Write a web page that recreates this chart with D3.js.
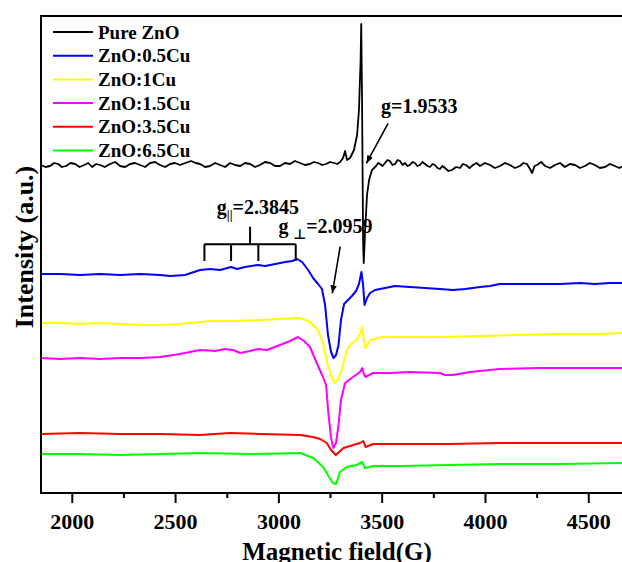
<!DOCTYPE html>
<html>
<head>
<meta charset="utf-8">
<script src="https://cdnjs.cloudflare.com/ajax/libs/d3/7.8.5/d3.min.js"></script>
<style>
    body{ margin: 0; background: #fff; }
    svg{ display: block; font-family: "Liberation Serif", "Times New Roman", serif; font-weight: bold; }
</style>
</head>
<body>
<svg id="chart" width="622" height="562"></svg>
<script>
// spectra: [field (G), intensity (a.u.)]
var pure_zno = [[1851,328],[1873,326],[1895,327],[1915,330],[1934,329],[1952,326],[1972,327],[1994,330],[2016,329],[2038,326],[2060,328],[2080,330],[2098,326],[2118,329],[2137,328],[2160,326],[2185,329],[2210,331],[2234,327],[2258,326],[2282,329],[2306,330],[2331,328],[2355,326],[2379,330],[2403,331],[2427,328],[2452,326],[2476,329],[2500,330],[2524,328],[2550,330],[2577,332],[2600,330],[2621,329],[2645,326],[2669,327],[2694,330],[2718,328],[2742,326],[2766,330],[2790,328],[2815,327],[2839,330],[2863,329],[2887,326],[2911,328],[2935,331],[2960,330],[2984,327],[3008,327],[3032,330],[3056,329],[3080,332],[3105,330],[3129,328],[3153,329],[3172,331],[3192,330],[3212,328],[3231,329],[3250,331],[3270,330],[3285,329],[3299,331],[3313,335],[3323,342],[3332,333],[3347,335],[3366,343],[3381,358],[3390,383],[3398,433],[3401,469],[3405,393],[3410,253],[3413,230],[3420,263],[3429,298],[3439,313],[3453,323],[3473,327],[3483,330],[3492,329],[3504,327],[3516,330],[3528,333],[3540,332],[3552,328],[3565,329],[3577,333],[3589,332],[3601,328],[3613,330],[3625,327],[3637,328],[3649,331],[3661,330],[3673,327],[3685,328],[3697,331],[3710,329],[3722,327],[3734,326],[3746,329],[3758,328],[3770,325],[3782,324],[3794,327],[3806,325],[3823,322],[3840,323],[3860,326],[3879,325],[3893,329],[3908,328],[3925,325],[3942,328],[3959,330],[3976,327],[4000,330],[4024,328],[4048,325],[4073,327],[4097,330],[4121,328],[4145,325],[4169,327],[4186,330],[4203,329],[4215,325],[4228,320],[4240,327],[4252,328],[4272,331],[4291,327],[4315,325],[4339,328],[4363,330],[4387,326],[4411,329],[4436,328],[4460,325],[4484,327],[4508,330],[4532,328],[4556,325],[4581,326],[4605,329],[4629,327],[4650,325],[4668,327]];

var zno_05cu = [[1851,219],[1944,219],[2040,218],[2137,219],[2234,218],[2331,219],[2427,218],[2476,217],[2548,218],[2621,223],[2669,224],[2718,223],[2771,226],[2800,224],[2839,226],[2902,228],[2936,227],[2985,229],[3033,231],[3067,232],[3091,234],[3115,231],[3144,223],[3168,215],[3192,209],[3211,204],[3226,188],[3240,158],[3255,141],[3267,135],[3279,138],[3291,148],[3303,173],[3318,189],[3337,193],[3356,197],[3376,202],[3390,209],[3402,221],[3410,208],[3417,188],[3429,195],[3444,200],[3468,203],[3516,205],[3565,207],[3637,206],[3710,205],[3782,204],[3845,203],[3904,204],[3976,206],[4024,207],[4073,209],[4169,209],[4266,209],[4363,209],[4460,210],[4532,209],[4605,210],[4668,210]];

var zno_1cu = [[1851,170],[1944,170],[2040,169],[2137,170],[2234,169],[2331,168],[2427,168],[2524,169],[2621,171],[2669,172],[2781,172],[2911,173],[3008,174],[3105,175],[3153,171],[3192,163],[3216,150],[3240,127],[3260,115],[3274,110],[3289,114],[3306,123],[3331,143],[3352,149],[3378,153],[3395,159],[3406,166],[3414,153],[3421,145],[3444,153],[3507,156],[3589,156],[3782,156],[3976,157],[4169,158],[4363,159],[4557,159],[4668,160]];

var zno_15cu = [[1851,135],[1944,134],[2040,135],[2137,134],[2234,135],[2331,135],[2427,136],[2524,139],[2621,143],[2694,142],[2742,144],[2781,143],[2815,140],[2863,142],[2902,144],[2944,143],[3008,148],[3056,152],[3095,156],[3124,152],[3153,146],[3192,127],[3216,116],[3231,108],[3242,80],[3255,55],[3266,45],[3279,50],[3290,66],[3303,93],[3323,110],[3361,116],[3395,121],[3406,125],[3414,119],[3422,116],[3458,120],[3540,120],[3637,121],[3782,120],[3806,118],[3845,118],[3927,121],[4073,124],[4266,125],[4460,125],[4668,125]];

var zno_35cu = [[1851,59],[2040,60],[2234,59],[2427,59],[2621,58],[2766,60],[2911,59],[3105,58],[3168,56],[3202,54],[3234,50],[3255,43],[3278,38],[3294,41],[3315,45],[3363,48],[3395,50],[3411,52],[3422,46],[3459,49],[3589,49],[3831,49],[4073,50],[4363,50],[4668,50]];

var zno_65cu = [[1851,39],[2040,39],[2234,38],[2427,39],[2621,40],[2863,39],[3105,40],[3169,35],[3217,26],[3245,16],[3264,10],[3279,9],[3298,21],[3330,26],[3378,28],[3406,31],[3419,25],[3459,27],[3589,27],[3831,28],[4073,29],[4363,29],[4668,30]];

var series_names = ['Pure ZnO', 'ZnO:0.5Cu', 'ZnO:1Cu', 'ZnO:1.5Cu', 'ZnO:3.5Cu', 'ZnO:6.5Cu'];
var series_colors = ['#000000', '#0000ff', '#ffff00', '#ff00ff', '#ff0000', '#00ff00'];
var series_data = [pure_zno, zno_05cu, zno_1cu, zno_15cu, zno_35cu, zno_65cu];

var major_ticks = [2000, 2500, 3000, 3500, 4000, 4500];
var minor_ticks = [2250, 2750, 3250, 3750, 4250];

// g-parallel hyperfine comb (field, G)
var comb_fields = [2642, 2771, 2903, 3084];

/**************************************************************************************/

var svg = d3.select('#chart');

var x = d3.scaleLinear().domain([1851, 4670]).range([41, 623.4]);
var y = d3.scaleLinear().domain([0, 477]).range([493, 16]);

var line = d3.line()
    .x(function(d){ return x(d[0]); })
    .y(function(d){ return y(d[1]); });

/**************************************************************************************/
// traces

series_data.forEach(function(d, i){
    svg.append('path')
        .datum(d)
        .attr('d', line)
        .attr('fill', 'none')
        .attr('stroke', series_colors[i])
        .attr('stroke-width', i == 0 ? 1.8 : 2)
        .attr('stroke-linejoin', 'round');
});

/**************************************************************************************/
// frame + axis

svg.append('path')
    .attr('d', 'M ' +x.range()[1]+ ' ' +y.range()[1]+ ' L ' +x.range()[0]+ ' ' +y.range()[1]+ ' L ' +x.range()[0]+ ' ' +y.range()[0]+ ' L ' +x.range()[1]+ ' ' +y.range()[0])
    .attr('fill', 'none')
    .attr('stroke', '#000')
    .attr('stroke-width', 2);

var x_axis = svg.append('g')
    .attr('transform', 'translate(0,' +y.range()[0]+ ')')
    .call(d3.axisBottom(x).tickValues(major_ticks).tickSize(10).tickPadding(10).tickFormat(d3.format('d')));
x_axis.select('.domain').remove();
x_axis.selectAll('line').attr('stroke-width', 2);
x_axis.selectAll('text')
    .attr('font-size', 22)
    .attr('font-family', '"Liberation Serif", serif')
    .attr('font-weight', 'bold')
    .attr('fill', '#000');

var x_minor = svg.append('g')
    .attr('transform', 'translate(0,' +y.range()[0]+ ')')
    .call(d3.axisBottom(x).tickValues(minor_ticks).tickSize(5).tickFormat(''));
x_minor.select('.domain').remove();
x_minor.selectAll('line').attr('stroke-width', 2);

svg.append('text')
    .attr('x', 337).attr('y', 560)
    .attr('text-anchor', 'middle')
    .attr('font-size', 25)
    .text('Magnetic field(G)');

svg.append('text')
    .attr('transform', 'translate(33,247) rotate(-90)')
    .attr('text-anchor', 'middle')
    .attr('font-size', 26)
    .text('Intensity (a.u.)');

/**************************************************************************************/
// legend

var legend = svg.append('g').attr('transform', 'translate(53,32)');
series_names.forEach(function(name, i){
    var row = legend.append('g').attr('transform', 'translate(0,' +(i*23.7)+ ')');
    row.append('line')
        .attr('x1', 0).attr('x2', 40).attr('y1', 0).attr('y2', 0)
        .attr('stroke', series_colors[i]).attr('stroke-width', 2);
    row.append('text')
        .attr('x', 45).attr('y', 6.5)
        .attr('font-size', 19)
        .text(name);
});

/**************************************************************************************/
// annotations

var comb_bar = 248.7, comb_foot = 232, comb_top = 266.3;
var comb_mid = (comb_fields[0] + comb_fields[comb_fields.length-1]) / 2;
var comb_d = 'M ' +x(comb_fields[0])+ ' ' +y(comb_bar)+ ' L ' +x(comb_fields[comb_fields.length-1])+ ' ' +y(comb_bar);
comb_fields.forEach(function(f){
    comb_d += ' M ' +x(f)+ ' ' +y(comb_bar)+ ' L ' +x(f)+ ' ' +y(comb_foot);
});
comb_d += ' M ' +x(comb_mid)+ ' ' +y(comb_bar)+ ' L ' +x(comb_mid)+ ' ' +y(comb_top);
svg.append('path').attr('d', comb_d).attr('fill', 'none').attr('stroke', '#000').attr('stroke-width', 2);

svg.append('defs').append('marker')
    .attr('id', 'head')
    .attr('viewBox', '0 0 10 10')
    .attr('refX', 10).attr('refY', 5)
    .attr('markerWidth', 5).attr('markerHeight', 5)
    .attr('markerUnits', 'strokeWidth')
    .attr('orient', 'auto')
    .append('path').attr('d', 'M 0 1 L 10 5 L 0 9 z').attr('fill', '#000');

function arrow(f1, i1, f2, i2){
    svg.append('line')
        .attr('x1', x(f1)).attr('y1', y(i1))
        .attr('x2', x(f2)).attr('y2', y(i2))
        .attr('stroke', '#000').attr('stroke-width', 1.6)
        .attr('marker-end', 'url(#head)');
}
arrow(3531, 369.7, 3426, 329.7);
arrow(3299, 246.3, 3261, 199.7);

var t1 = svg.append('text').attr('x', x(3497)).attr('y', y(379.7)).attr('font-size', 20);
t1.text('g=1.9533');

var t2 = svg.append('text').attr('x', x(2702)).attr('y', y(279)).attr('font-size', 20);
t2.append('tspan').text('g');
t2.append('tspan').attr('font-size', 13).attr('dy', 5).text('||');
t2.append('tspan').attr('dy', -5).text('=2.3845');

var t3 = svg.append('text').attr('x', x(3000)).attr('y', y(260)).attr('font-size', 20);
t3.append('tspan').text('g ');
t3.append('tspan').attr('font-size', 14).attr('dy', 6).attr('font-family', '"DejaVu Sans", sans-serif').text('\u22A5');
t3.append('tspan').attr('dy', -6).text('=2.0959');
</script>
</body>
</html>
